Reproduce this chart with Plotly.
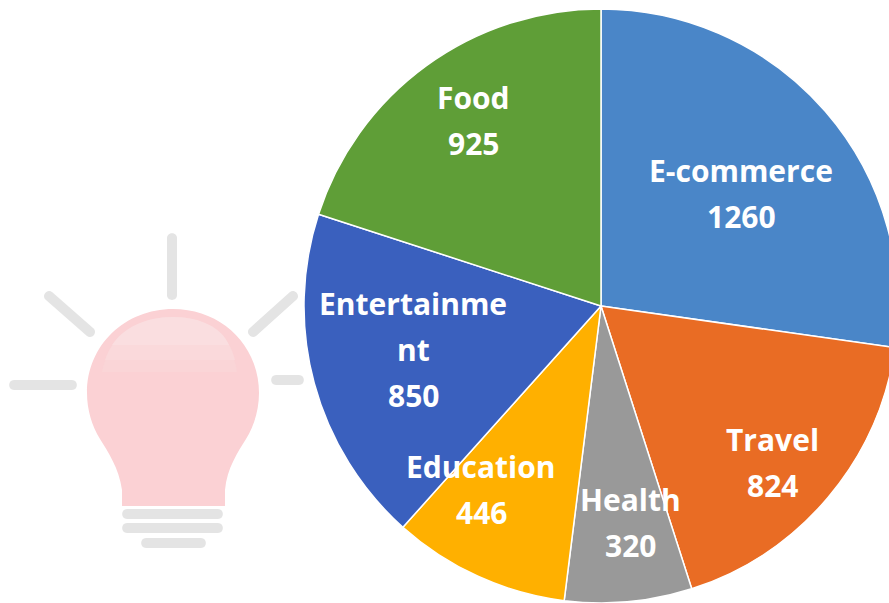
import plotly.graph_objects as go

labels = ["E-commerce", "Travel", "Health", "Education", "Entertainment", "Food"]
values = [1260, 824, 320, 446, 850, 925]
colors = ["#4A86C8", "#E96C24", "#999999", "#FFB000", "#3A60BE", "#5F9E37"]
label_lines = [["E-commerce"], ["Travel"], ["Health"], ["Education"], ["Entertainme", "nt"], ["Food"]]
# pixel position of the first text line of each label
label_x = [741, 772, 630, 481, 413, 473]
label_y = [170, 439, 499, 466, 303, 97]
LINE_GAP = 46

W, H = 910, 603  # the pie runs past the 889 px window and is clipped by it
cx, cy, r = 601, 306, 297
GREY = "#E4E4E4"

fig = go.Figure(go.Pie(
    labels=labels, values=values, sort=False, direction="clockwise", rotation=0,
    marker=dict(colors=colors, line=dict(color="white", width=1.5)),
    textinfo="none", showlegend=False, hoverinfo="label+value",
    domain=dict(x=[(cx - r) / W, (cx + r) / W], y=[1 - (cy + r) / H, 1 - (cy - r) / H]),
))
fig.add_trace(go.Scatter(x=[None], y=[None], showlegend=False, hoverinfo="skip"))


def capsule(x0, y0, x1, y1, w=10):
    dx, dy = x1 - x0, y1 - y0
    n = (dx * dx + dy * dy) ** 0.5
    ux, uy = dx / n, dy / n
    px, py = -uy * w / 2, ux * w / 2
    ex, ey = ux * w * 0.65, uy * w * 0.65
    return (f"M {x0+px} {y0+py} L {x1+px} {y1+py} "
            f"C {x1+px+ex} {y1+py+ey} {x1-px+ex} {y1-py+ey} {x1-px} {y1-py} "
            f"L {x0-px} {y0-py} "
            f"C {x0-px-ex} {y0-py-ey} {x0+px-ex} {y0+py-ey} {x0+px} {y0+py} Z")


def add_path(path, fill):
    fig.add_shape(type="path", path=path, xref="x", yref="y", fillcolor=fill,
                  line=dict(width=0), layer="below")


for seg in [(172, 238, 172, 295), (49, 296, 90, 332), (293, 296, 253, 332), (14, 385, 72, 385),
            (276, 380, 299, 380), (127, 514, 218, 514), (127, 528, 218, 528), (146, 543, 201, 543)]:
    add_path(capsule(*seg), GREY)

add_path("M 122 506 L 122 490 C 119 468 108 452 100 439 C 92 426 87 410 87 393 "
         "C 87 345 125 309 173 309 C 221 309 259 345 259 393 C 259 410 254 426 246 439 "
         "C 238 452 227 468 225 490 L 225 506 Z", "#FBD1D4")
add_path("M 102 372 C 108 340 135 317 173 317 C 211 317 232 340 237 372 Z", "#FAD5D7")
add_path("M 105 360 C 113 335 138 317 173 317 C 208 317 229 335 235 360 Z", "#FAD9DB")
add_path("M 112 345 C 123 328 145 317 173 317 C 201 317 222 328 229 345 Z", "#FADEE0")

annotations = []
for lines, x, y, v in zip(label_lines, label_x, label_y, values):
    for i, t in enumerate(lines + [str(v)]):
        annotations.append(dict(x=x, y=y + i * LINE_GAP, xref="x", yref="y", text=t, showarrow=False,
                                xanchor="center", yanchor="middle",
                                font=dict(family="Open Sans, sans-serif", size=30, color="white", weight=700)))

fig.update_layout(
    width=W, height=H, margin=dict(l=0, r=0, t=0, b=0), paper_bgcolor="white", plot_bgcolor="rgba(0,0,0,0)",
    xaxis=dict(range=[0, W], visible=False, fixedrange=True),
    yaxis=dict(range=[H, 0], visible=False, fixedrange=True),
    annotations=annotations,
)
fig.write_html("out.html", config={"displayModeBar": False},
               post_script="document.documentElement.style.overflow='hidden';document.body.style.overflow='hidden';document.body.style.margin='0';")
